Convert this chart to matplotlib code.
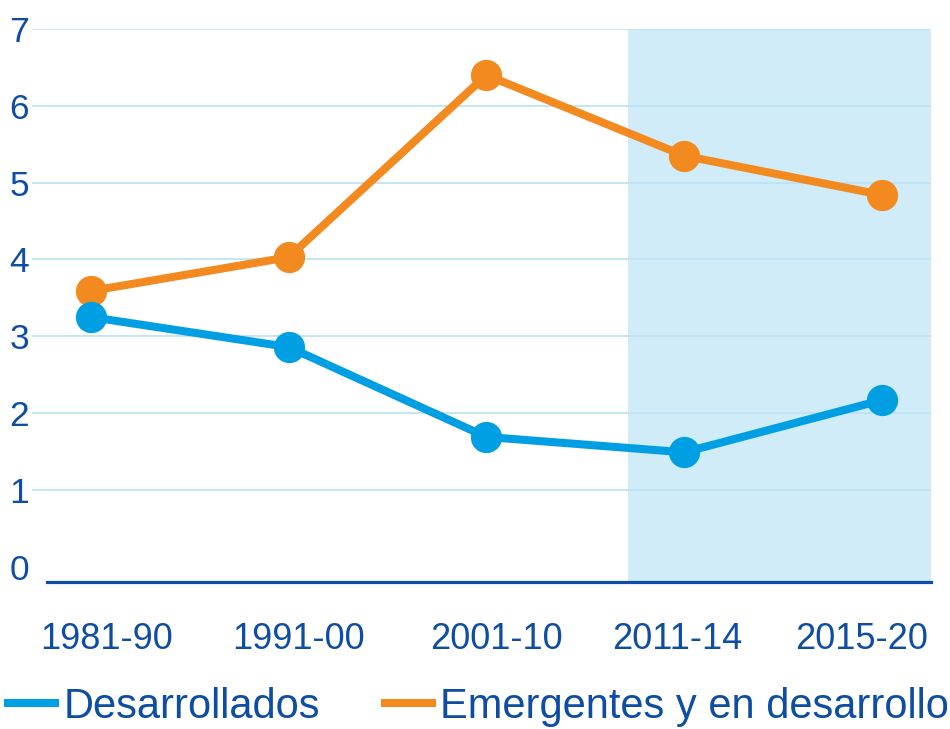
import matplotlib
matplotlib.use("Agg")
import matplotlib.pyplot as plt
import matplotlib.transforms as mtransforms
from matplotlib.lines import Line2D

categories = ["1981-90", "1991-00", "2001-10", "2011-14", "2015-20"]
desarrollados = [3.25, 2.86, 1.69, 1.49, 2.17]
emergentes = [3.59, 4.03, 6.40, 5.35, 4.84]
y_ticks = [0, 1, 2, 3, 4, 5, 6, 7]
shade_start_index = 2.716  # shaded period begins between 2001-10 and 2011-14

TEXT = "#0E4DA4"
BLUE = "#009FE3"
ORANGE = "#F28A20"
SHADE = "#D0ECF8"
GRID = "#BEE3F5"

plt.rcParams['font.family'] = ['Liberation Sans', 'DejaVu Sans']

fig = plt.figure(figsize=(9.5, 7.29), dpi=100)
W, H = 950, 729
left, right, top, bottom = 32, 931, 29, 582
ax = fig.add_axes([left / W, 1 - bottom / H, (right - left) / W, (bottom - top) / H])

x = list(range(len(categories)))
ax.set_xlim(-0.298, 4.248)
ax.set_ylim(-0.198, 7)

ax.axvspan(shade_start_index, 4.248, color=SHADE, zorder=0, lw=0)
for yv in y_ticks[1:]:
    ax.axhline(yv, color=GRID, lw=1.3, zorder=1)

ax.plot(x, emergentes, color=ORANGE, lw=5.8, marker='o', ms=21.5, zorder=3,
        solid_capstyle='butt')
ax.plot(x, desarrollados, color=BLUE, lw=5.8, marker='o', ms=21.5, zorder=4,
        solid_capstyle='butt')

for s in ['top', 'right', 'left']:
    ax.spines[s].set_visible(False)
ax.spines['bottom'].set_color(TEXT)
ax.spines['bottom'].set_linewidth(2.3)
ax.spines['bottom'].set_bounds(-0.2225, 4.248)
ax.spines['bottom'].set_zorder(5)

ax.set_yticks(y_ticks)
ax.set_yticklabels([str(v) for v in y_ticks])
ax.set_xticks(x)
ax.set_xticklabels(categories)
ax.tick_params(axis='y', length=0, pad=2, labelsize=25.5, labelcolor=TEXT)
ax.tick_params(axis='x', length=0, pad=29, labelsize=26, labelcolor=TEXT)
for lbl in ax.get_yticklabels():
    lbl.set_verticalalignment('center_baseline')

# small horizontal nudges of the category labels (pixels), as in the original layout
label_shift_px = [16, 10, 10, -7, -20]
for lbl, dx in zip(ax.get_xticklabels(), label_shift_px):
    lbl.set_transform(lbl.get_transform() +
                      mtransforms.ScaledTranslation(dx / 100, 0, fig.dpi_scale_trans))

handles = [Line2D([], [], color=BLUE, lw=5.8), Line2D([], [], color=ORANGE, lw=5.8)]
fig.legend(handles, ["Desarrollados", "Emergentes y en desarrollo"],
           loc='center left', bbox_to_anchor=(8 / W, 1 - 707 / H), ncol=2,
           frameon=False, fontsize=30, borderpad=0, borderaxespad=0,
           handlelength=1.13, handletextpad=0.2, columnspacing=1.55,
           labelcolor=TEXT)

fig.savefig("out.png", dpi=100)
